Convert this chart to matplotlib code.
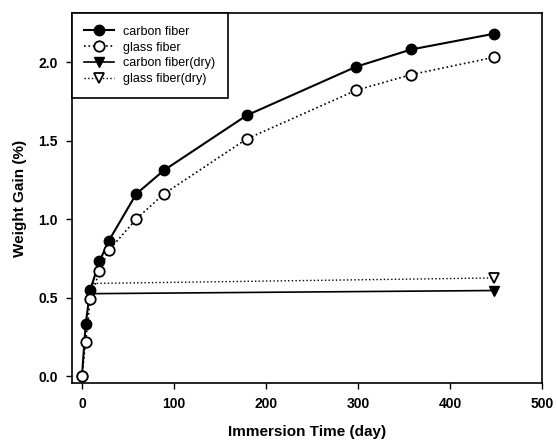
import matplotlib
matplotlib.use("Agg")
import matplotlib.pyplot as plt

plt.rcParams['font.family'] = ['Liberation Sans', 'DejaVu Sans']

days = [0, 4, 9, 19, 29, 59, 89, 179, 298, 358, 448]
carbon = [0.0, 0.33, 0.55, 0.73, 0.86, 1.16, 1.31, 1.66, 1.97, 2.08, 2.18]
glass = [0.0, 0.22, 0.49, 0.67, 0.80, 1.00, 1.16, 1.51, 1.82, 1.92, 2.03]

dry_days = [12, 448]
carbon_dry = [0.525, 0.545]
glass_dry = [0.59, 0.625]

fig = plt.figure(figsize=(5.57, 4.44), dpi=100)
ax = fig.add_axes([0.129, 0.137, 0.844, 0.833])

ax.plot(days, carbon, '-', color='black', lw=1.5, marker='o', ms=7.5,
        mfc='black', mec='black', label='carbon fiber', zorder=3)
ax.plot(days, glass, ':', color='black', lw=1.2, marker='o', ms=7.5,
        mfc='white', mec='black', mew=1.3, label='glass fiber', zorder=4)
ax.plot(dry_days, carbon_dry, '-', color='black', lw=1.2, marker='v', ms=7,
        mfc='black', mec='black', markevery=[1], label='carbon fiber(dry)', zorder=3)
ax.plot(dry_days, glass_dry, ':', color='black', lw=1.0, marker='v', ms=7,
        mfc='white', mec='black', mew=1.3, markevery=[1], label='glass fiber(dry)', zorder=3)

ax.set_xlim(-11, 500)
ax.set_ylim(-0.045, 2.31)
ax.set_xticks([0, 100, 200, 300, 400, 500])
ax.set_yticks([0.0, 0.5, 1.0, 1.5, 2.0])
ax.set_yticklabels(['0.0', '0.5', '1.0', '1.5', '2.0'])
ax.tick_params(direction='out', length=4, width=1, labelsize=10, pad=6)
for lab in ax.get_xticklabels() + ax.get_yticklabels():
    lab.set_fontweight('bold')
for s in ax.spines.values():
    s.set_linewidth(1.2)

ax.set_xlabel('Immersion Time (day)', fontsize=11, fontweight='bold', labelpad=10)
ax.set_ylabel('Weight Gain (%)', fontsize=11, fontweight='bold', labelpad=8)

leg = ax.legend(loc='upper left', bbox_to_anchor=(0.0, 1.0), fontsize=9,
                frameon=True, fancybox=False, edgecolor='black', framealpha=1,
                handlelength=2.4, borderaxespad=0, labelspacing=0.3,
                handletextpad=0.7, borderpad=1.0)
leg.get_frame().set_linewidth(1.2)

fig.savefig('out.png', dpi=100)
